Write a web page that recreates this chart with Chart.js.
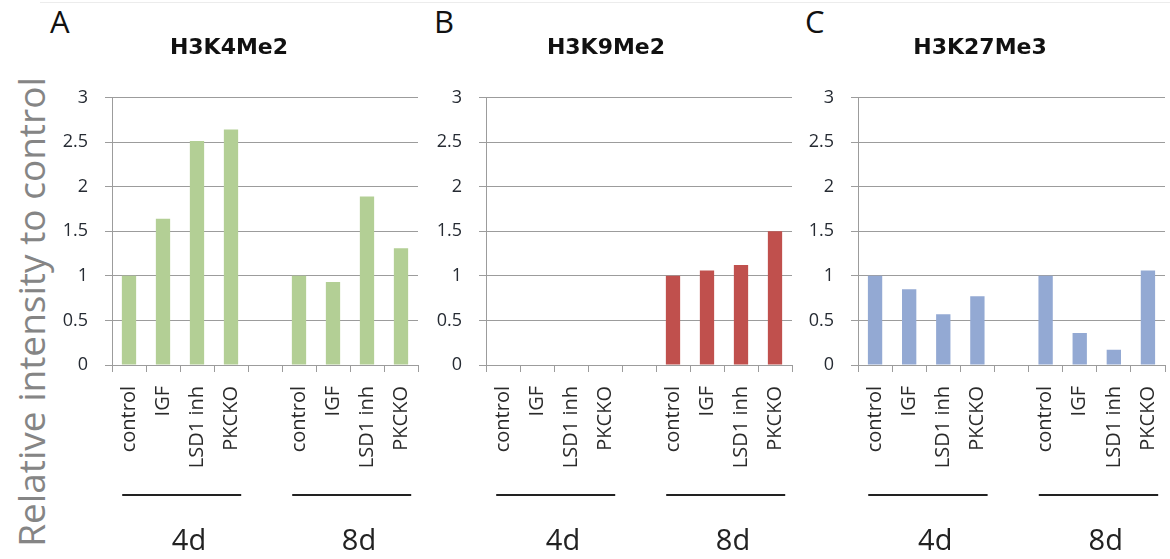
<!DOCTYPE html>
<html>
<head>
<meta charset="utf-8">
<script src="https://cdn.jsdelivr.net/npm/chart.js@4.4.1/dist/chart.umd.min.js"></script>
<style>
  body { margin: 0; background: #fff; }
  #page { position: relative; width: 1170px; height: 559px; overflow: hidden; font-family: "Open Sans", sans-serif; }
  #page canvas { position: absolute; top: 0; }
  .letter { position: absolute; top: 6px; font-size: 31px; line-height: 1; color: #111; }
  #ytitle { position: absolute; left: 30px; top: 312px; transform: translate(-50%, -50%) rotate(-90deg);
            white-space: nowrap; font-size: 37px; line-height: 1; color: #858585; }
  #topline { position: absolute; left: 40px; right: 0; top: 2px; border-top: 1px solid #ececec; }
</style>
</head>
<body>
<div id="page">
  <div id="topline"></div>
  <div id="ytitle">Relative intensity to control</div>
  <div class="letter" style="left:50px">A</div>
  <div class="letter" style="left:434px">B</div>
  <div class="letter" style="left:805px">C</div>
  <canvas id="chartA" width="380" height="559" style="left:40px"></canvas>
  <canvas id="chartB" width="375" height="559" style="left:420px"></canvas>
  <canvas id="chartC" width="375" height="559" style="left:795px"></canvas>
</div>
<script>
// ---- data ----
const categories = ["control", "IGF", "LSD1 inh", "PKCKO", "", "control", "IGF", "LSD1 inh", "PKCKO"];
const h3k4me2  = [1.00, 1.64, 2.51, 2.64, null, 1.00, 0.93, 1.89, 1.31];
const h3k9me2  = [null, null, null, null, null, 1.00, 1.06, 1.12, 1.50];
const h3k27me3 = [1.00, 0.85, 0.57, 0.77, null, 1.00, 0.36, 0.17, 1.06];
const yTicks = [0, 0.5, 1, 1.5, 2, 2.5, 3];
const groupLabels = ["4d", "8d"];
const groupStarts = [0, 5];

const gridColor = "#9c9c9c";

// group underline + "4d"/"8d" under the category labels
const groupPlugin = {
  id: "groups",
  afterDraw(chart) {
    const x = chart.scales.x;
    const ctx = chart.ctx;
    const step = x.getPixelForValue(1) - x.getPixelForValue(0);
    ctx.save();
    ctx.strokeStyle = "#222";
    ctx.lineWidth = 2;
    ctx.fillStyle = "#222";
    ctx.font = '29px "Open Sans"';
    ctx.textAlign = "center";
    ctx.textBaseline = "middle";
    groupLabels.forEach((g, i) => {
      const c = x.getPixelForValue(groupStarts[i] + 1.5);
      ctx.beginPath();
      ctx.moveTo(c - step * 1.7, 495);
      ctx.lineTo(c + step * 1.8, 495);
      ctx.stroke();
      ctx.fillText(g, c + 9, 542);
    });
    ctx.restore();
  }
};

function makePanel(id, title, values, color, yWidth, padRight) {
  new Chart(document.getElementById(id), {
    type: "bar",
    data: {
      labels: categories,
      datasets: [{
        label: title,
        data: values,
        backgroundColor: color,
        borderWidth: 0,
        categoryPercentage: 1,
        barPercentage: 0.42
      }]
    },
    options: {
      responsive: false,
      animation: false,
      layout: { padding: { top: 27, right: padRight, left: 0, bottom: 0 } },
      plugins: {
        legend: { display: false },
        tooltip: { enabled: false },
        title: {
          display: true,
          text: title,
          color: "#111",
          font: { family: "DejaVu Sans", size: 22, weight: "bold" },
          padding: { top: 8, bottom: 36 }
        }
      },
      scales: {
        x: {
          grid: { drawOnChartArea: false, offset: true, tickLength: 7, color: gridColor },
          border: { color: gridColor },
          ticks: {
            autoSkip: false,
            maxRotation: 90,
            minRotation: 90,
            padding: 14,
            color: "#2a2a2a",
            font: { family: "Open Sans", size: 20 }
          },
          afterFit(scale) {
            scale.height = 194;
            scale.paddingLeft = 0;
            scale.paddingRight = 0;
          }
        },
        y: {
          min: 0,
          max: 3,
          afterBuildTicks(scale) { scale.ticks = yTicks.map(v => ({ value: v })); },
          grid: { color: gridColor, tickLength: 7 },
          border: { color: gridColor },
          ticks: {
            padding: 17,
            color: "#262b33",
            font: { family: "Open Sans", size: 18 },
            callback: v => String(v)
          },
          afterFit(scale) { scale.width = yWidth; }
        }
      }
    },
    plugins: [groupPlugin]
  });
}

makePanel("chartA", "H3K4Me2", h3k4me2, "#b3cf95", 72, 2);
makePanel("chartB", "H3K9Me2", h3k9me2, "#c0504d", 66, 3);
makePanel("chartC", "H3K27Me3", h3k27me3, "#93a9d3", 63, 5);
</script>
</body>
</html>
